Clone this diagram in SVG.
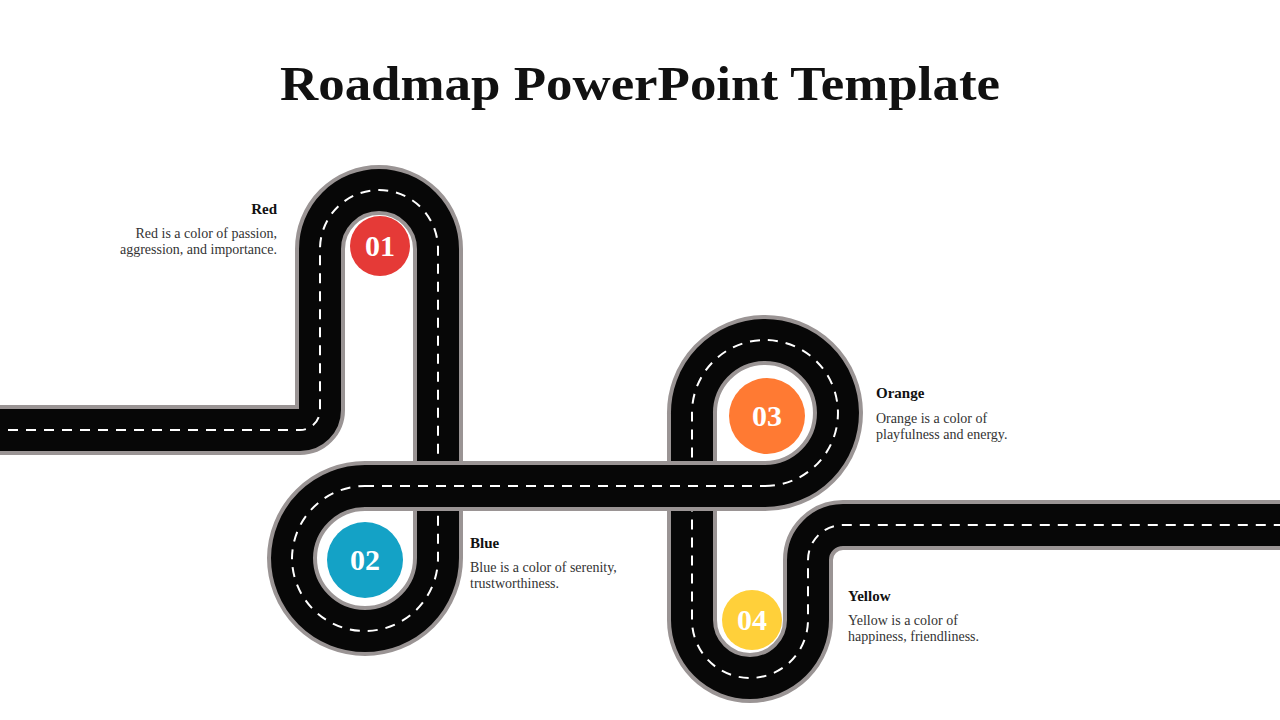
<svg xmlns="http://www.w3.org/2000/svg" width="1280" height="720" viewBox="0 0 1280 720">
<style>
.g{fill:none;stroke:#9a9494;stroke-width:50}
.b{fill:none;stroke:#070707;stroke-width:42}
.d{fill:none;stroke:#fff;stroke-width:2;stroke-dasharray:10 8}
.t{font-family:"Liberation Serif","DejaVu Serif",serif;fill:#111}
.h{font-weight:bold;font-size:15px}
.p{font-size:14px;fill:#333}
.n{font-family:"Liberation Serif","DejaVu Serif",serif;font-weight:bold;font-size:30px;fill:#fff;text-anchor:middle}
</style>
<defs>
<path id="r1" d="M-10,430 H300 A20,20 0 0 0 320,410 V249 A59,59 0 0 1 438,249 V558 A73,73 0 0 1 292,558 A73,73 0 0 1 365,486"/>
<path id="r2" d="M765,486 A73,73 0 1 0 692,415 V620 A58,58 0 0 0 808,620 V560 A35,35 0 0 1 843,525 H1290"/>
<path id="r3" d="M364,486 H766"/>
</defs>
<text class="t" x="640" y="100" text-anchor="middle" font-size="48" font-weight="bold" textLength="720" lengthAdjust="spacingAndGlyphs">Roadmap PowerPoint Template</text>
<g id="connectors">
<use href="#r1" class="g"/><use href="#r1" class="b"/><use href="#r1" class="d"/>
<use href="#r2" class="g"/><use href="#r2" class="b"/><use href="#r2" class="d"/>
<use href="#r3" class="g"/><use href="#r3" class="b"/><use href="#r3" class="d"/>
</g>
<g id="n1"><circle cx="380" cy="246" r="30" fill="#E53A37"/><text class="n" x="380" y="256">01</text>
<text class="t h" x="277" y="214" text-anchor="end">Red</text>
<text class="t p" x="277" y="238" text-anchor="end">Red is a color of passion,</text>
<text class="t p" x="277" y="254" text-anchor="end">aggression, and importance.</text></g>
<g id="n2"><circle cx="365" cy="560" r="38" fill="#14A2C6"/><text class="n" x="365" y="570">02</text>
<text class="t h" x="470" y="548">Blue</text>
<text class="t p" x="470" y="572">Blue is a color of serenity,</text>
<text class="t p" x="470" y="588">trustworthiness.</text></g>
<g id="n3"><circle cx="767" cy="416" r="38" fill="#FF7A33"/><text class="n" x="767" y="426">03</text>
<text class="t h" x="876" y="398">Orange</text>
<text class="t p" x="876" y="423">Orange is a color of</text>
<text class="t p" x="876" y="439">playfulness and energy.</text></g>
<g id="n4"><circle cx="752" cy="620" r="30" fill="#FFD03A"/><text class="n" x="752" y="630">04</text>
<text class="t h" x="848" y="601">Yellow</text>
<text class="t p" x="848" y="625">Yellow is a color of</text>
<text class="t p" x="848" y="641">happiness, friendliness.</text></g>
</svg>
